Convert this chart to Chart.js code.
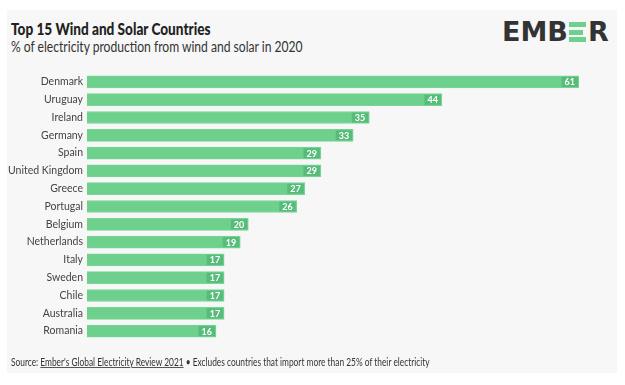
<!DOCTYPE html>
<html>
<head>
<meta charset="utf-8">
<script src="https://cdn.jsdelivr.net/npm/chart.js@4"></script>
<style>
  html, body { margin: 0; padding: 0; background: #fff; }
  #wrap { position: relative; width: 625px; height: 385px; font-family: Lato, sans-serif; }
  #card { position: absolute; left: 7px; top: 10px; width: 610px; height: 363px; background: #f7f7f7; }
  .sq { position: absolute; white-space: nowrap; transform-origin: 0 0; }
  #title { left: 11px; top: 18px; font-size: 17px; font-weight: 900; color: #222; transform: scaleX(0.8); }
  #sub { left: 11px; top: 37px; font-size: 15.5px; color: #333; transform: scaleX(0.78); }
  #logo { position: absolute; left: 502px; top: 16px; font-size: 27px; font-weight: 900; color: #333; letter-spacing: 0; font-family: "DejaVu Sans", sans-serif; }
  #logo .e { display: inline-block; width: 17px; height: 20px; vertical-align: -1px; margin: 0 2px 0 1px; position: relative; }
  #logo .e i { position: absolute; left: 0; height: 5px; background: #6dd08c; }
  #src { left: 11px; top: 355px; font-size: 11px; color: #333; transform: scaleX(0.76); }
  #src u { text-decoration-color: #555; }
  #chart { position: absolute; left: 0; top: 0; width: 625px; height: 385px; }
</style>
</head>
<body>
<div id="wrap">
  <div id="card"></div>
  <div id="title" class="sq">Top 15 Wind and Solar Countries</div>
  <div id="sub" class="sq">% of electricity production from wind and solar in 2020</div>
  <div id="logo">EMB<span class="e"><i style="top:0;width:17px"></i><i style="top:7.5px;width:14px"></i><i style="top:15px;width:17px"></i></span>R</div>
  <div id="chart"><canvas id="can"></canvas></div>
  <div id="src" class="sq">Source: <u>Ember's Global Electricity Review 2021</u> • Excludes countries that import more than 25% of their electricity</div>
</div>
<script>
// Données
const countries = ["Denmark", "Uruguay", "Ireland", "Germany", "Spain", "United Kingdom", "Greece",
  "Portugal", "Belgium", "Netherlands", "Italy", "Sweden", "Chile", "Australia", "Romania"];
const shares = [61, 44, 35, 33, 29, 29, 27, 26, 20, 19, 17, 17, 17, 17, 16];

// Étiquettes de valeur au bout des barres
const valueLabels = {
  id: "valueLabels",
  afterDatasetsDraw(chart) {
    const ctx = chart.ctx;
    const meta = chart.getDatasetMeta(0);
    ctx.save();
    ctx.font = "bold 9px Lato, sans-serif";
    ctx.textAlign = "right";
    ctx.textBaseline = "middle";
    meta.data.forEach((bar, i) => {
      const txt = String(shares[i]);
      const w = ctx.measureText(txt).width + 6;
      ctx.fillStyle = "rgba(70,170,105,0.55)";
      ctx.fillRect(bar.x - w - 1, bar.y - 5, w, 10);
      ctx.fillStyle = "#fff";
      ctx.fillText(txt, bar.x - 4, bar.y + 0.5);
    });
    ctx.restore();
  }
};

new Chart(document.getElementById("can"), {
  type: "bar",
  data: {
    labels: countries,
    datasets: [{
      data: shares,
      backgroundColor: "#6dd08c",
      borderColor: "#79d596",
      borderWidth: 1,
      barThickness: 12
    }]
  },
  options: {
    indexAxis: "y",
    responsive: true,
    maintainAspectRatio: false,
    animation: false,
    layout: { padding: { top: 73, bottom: 45, right: 46, left: 8 } },
    plugins: { legend: { display: false }, tooltip: { enabled: false } },
    scales: {
      x: { display: false, min: 0, max: 61 },
      y: {
        grid: { display: false, drawTicks: false },
        border: { display: false },
        ticks: { color: "#444", font: { family: "Lato, sans-serif", size: 10.5 }, padding: 4, crossAlign: "near" },
        afterFit(scale) { scale.width = 79; }
      }
    }
  },
  plugins: [valueLabels]
});
</script>
</body>
</html>
